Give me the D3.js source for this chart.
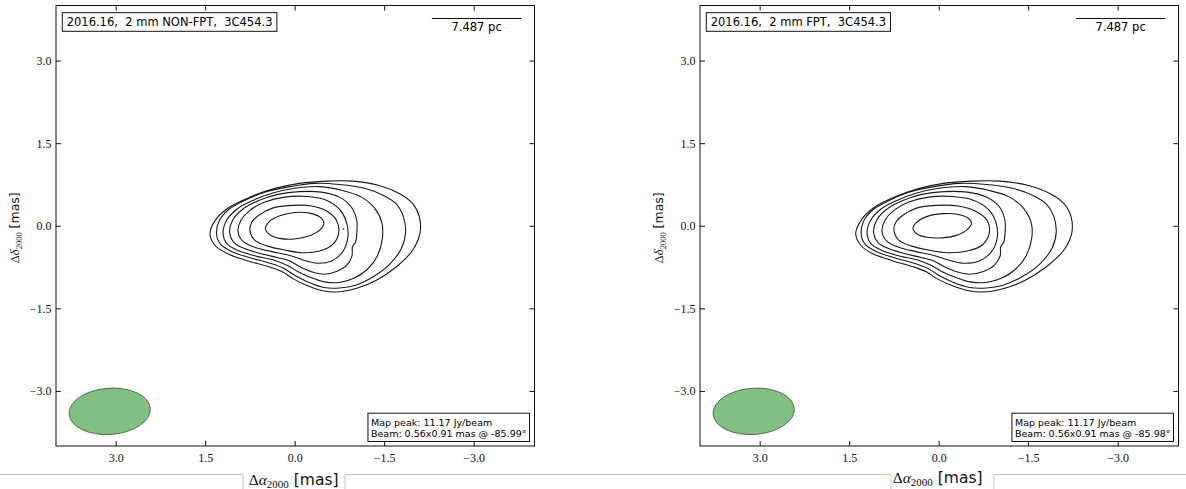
<!DOCTYPE html>
<html>
<head>
<meta charset="utf-8">
<script src="https://cdn.jsdelivr.net/npm/d3@7"></script>
<style>
  body { margin: 0; background: #fff; }
  svg { display: block; }
</style>
</head>
<body>
<svg id="chart" width="1186" height="489"></svg>
<script>
// ---- data -------------------------------------------------------------
const xTicks = [3.0, 1.5, 0.0, -1.5, -3.0];
const yTicks = [3.0, 1.5, 0.0, -1.5, -3.0];

const panelTitles = ["2016.16,  2 mm NON-FPT,  3C454.3", "2016.16,  2 mm FPT,  3C454.3"];
const mapPeaks   = [11.17, 11.17];          // Jy/beam
const beamMinor  = [0.56, 0.56];            // mas
const beamMajor  = [0.91, 0.91];            // mas
const beamPA     = [-85.99, -85.98];        // deg
const beamCentre = [[3.10, -3.37], [3.10, -3.37]];   // mas
const scaleBarMas   = [-2.3, -3.8];         // 1.5 mas bar
const scaleBarLabel = "7.487 pc";

// contour levels, outermost first, as (RA offset, Dec offset) in mas
const contoursNonFpt = [
  [[1.42,-0.14],[1.34,-0.35],[1.14,-0.50],[0.81,-0.63],[0.42,-0.75],[0.20,-0.84],[0.03,-0.96],[-0.20,-1.08],[-0.47,-1.18],[-0.75,-1.20],[-1.03,-1.14],[-1.37,-0.99],[-1.70,-0.75],[-1.98,-0.44],[-2.10,-0.14],[-2.09,0.16],[-1.98,0.40],[-1.76,0.58],[-1.42,0.73],[-0.98,0.81],[-0.53,0.81],[-0.08,0.77],[0.36,0.67],[0.75,0.52],[1.09,0.34],[1.31,0.13]],
  [[1.31,-0.14],[1.24,-0.34],[1.05,-0.47],[0.75,-0.58],[0.38,-0.69],[0.17,-0.78],[0.00,-0.90],[-0.22,-1.02],[-0.49,-1.12],[-0.75,-1.13],[-1.02,-1.08],[-1.31,-0.93],[-1.59,-0.70],[-1.79,-0.41],[-1.86,-0.12],[-1.82,0.17],[-1.71,0.39],[-1.49,0.55],[-1.17,0.68],[-0.75,0.75],[-0.33,0.77],[0.08,0.71],[0.50,0.61],[0.84,0.46],[1.10,0.30],[1.26,0.10]],
  [[1.20,-0.14],[1.14,-0.32],[0.97,-0.44],[0.69,-0.54],[0.33,-0.63],[0.12,-0.72],[-0.05,-0.83],[-0.25,-0.93],[-0.50,-1.02],[-0.75,-1.03],[-1.00,-0.95],[-1.22,-0.79],[-1.39,-0.54],[-1.47,-0.23],[-1.46,0.06],[-1.34,0.32],[-1.12,0.52],[-0.80,0.64],[-0.42,0.71],[0.00,0.68],[0.38,0.59],[0.70,0.46],[0.97,0.30],[1.14,0.10]],
  [[1.09,-0.12],[1.02,-0.30],[0.85,-0.41],[0.59,-0.50],[0.28,-0.58],[0.08,-0.64],[-0.08,-0.74],[-0.27,-0.83],[-0.49,-0.88],[-0.70,-0.83],[-0.87,-0.72],[-0.96,-0.55],[-0.97,-0.38],[-1.02,-0.30],[-1.04,-0.17],[-1.04,0.10],[-0.95,0.34],[-0.75,0.52],[-0.45,0.61],[-0.08,0.62],[0.28,0.57],[0.60,0.46],[0.87,0.30],[1.04,0.10]],
  [[0.95,-0.10],[0.87,-0.28],[0.67,-0.39],[0.38,-0.47],[0.08,-0.54],[-0.17,-0.63],[-0.38,-0.68],[-0.62,-0.64],[-0.80,-0.48],[-0.89,-0.23],[-0.87,0.06],[-0.75,0.30],[-0.54,0.46],[-0.22,0.53],[0.17,0.52],[0.50,0.43],[0.75,0.28],[0.90,0.10]],
  [[0.75,-0.08],[0.67,-0.26],[0.45,-0.37],[0.17,-0.44],[-0.13,-0.49],[-0.42,-0.46],[-0.64,-0.34],[-0.74,-0.12],[-0.70,0.10],[-0.55,0.26],[-0.28,0.36],[0.05,0.37],[0.37,0.32],[0.60,0.19],[0.72,0.06]],
  [[0.49,-0.05],[0.42,0.08],[0.25,0.18],[0.00,0.24],[-0.25,0.23],[-0.42,0.16],[-0.49,0.05],[-0.42,-0.08],[-0.25,-0.18],[0.00,-0.24],[0.25,-0.23],[0.42,-0.16]]
];
const specksNonFpt = [[-0.82, -0.06]];

const contoursFpt = [
  [[1.39,-0.14],[1.31,-0.35],[1.12,-0.50],[0.79,-0.63],[0.41,-0.75],[0.20,-0.84],[0.03,-0.96],[-0.21,-1.08],[-0.50,-1.18],[-0.80,-1.20],[-1.09,-1.14],[-1.45,-0.99],[-1.80,-0.75],[-2.10,-0.44],[-2.23,-0.14],[-2.22,0.16],[-2.10,0.40],[-1.87,0.58],[-1.51,0.73],[-1.04,0.81],[-0.56,0.81],[-0.08,0.77],[0.35,0.67],[0.74,0.52],[1.07,0.34],[1.28,0.13]],
  [[1.30,-0.14],[1.23,-0.34],[1.04,-0.47],[0.74,-0.58],[0.38,-0.69],[0.17,-0.78],[0.00,-0.90],[-0.23,-1.02],[-0.52,-1.12],[-0.80,-1.13],[-1.08,-1.08],[-1.39,-0.93],[-1.69,-0.70],[-1.90,-0.41],[-1.97,-0.12],[-1.93,0.17],[-1.81,0.39],[-1.58,0.55],[-1.24,0.68],[-0.80,0.75],[-0.35,0.77],[0.08,0.71],[0.50,0.61],[0.83,0.46],[1.09,0.30],[1.25,0.10]],
  [[1.20,-0.14],[1.14,-0.32],[0.97,-0.44],[0.69,-0.54],[0.33,-0.63],[0.12,-0.72],[-0.05,-0.83],[-0.27,-0.93],[-0.53,-1.02],[-0.80,-1.03],[-1.06,-0.95],[-1.29,-0.79],[-1.47,-0.54],[-1.56,-0.23],[-1.55,0.06],[-1.42,0.32],[-1.19,0.52],[-0.85,0.64],[-0.45,0.71],[0.00,0.68],[0.38,0.59],[0.70,0.46],[0.97,0.30],[1.14,0.10]],
  [[1.09,-0.12],[1.02,-0.30],[0.85,-0.41],[0.59,-0.50],[0.28,-0.58],[0.08,-0.64],[-0.09,-0.74],[-0.29,-0.83],[-0.52,-0.88],[-0.75,-0.83],[-0.93,-0.72],[-1.03,-0.55],[-1.04,-0.38],[-1.09,-0.30],[-1.11,-0.17],[-1.11,0.10],[-1.02,0.34],[-0.80,0.52],[-0.48,0.61],[-0.09,0.62],[0.28,0.57],[0.60,0.46],[0.87,0.30],[1.04,0.10]],
  [[0.95,-0.10],[0.87,-0.28],[0.67,-0.39],[0.38,-0.47],[0.08,-0.54],[-0.19,-0.63],[-0.42,-0.68],[-0.68,-0.64],[-0.88,-0.48],[-0.98,-0.23],[-0.96,0.06],[-0.83,0.30],[-0.59,0.46],[-0.24,0.53],[0.17,0.52],[0.50,0.43],[0.75,0.28],[0.90,0.10]],
  [[0.75,-0.08],[0.67,-0.26],[0.45,-0.37],[0.17,-0.44],[-0.15,-0.49],[-0.48,-0.46],[-0.74,-0.34],[-0.85,-0.12],[-0.81,0.10],[-0.63,0.26],[-0.32,0.36],[0.05,0.37],[0.37,0.32],[0.60,0.19],[0.72,0.06]],
  [[0.43,-0.05],[0.36,0.07],[0.19,0.17],[-0.06,0.22],[-0.31,0.21],[-0.48,0.15],[-0.55,0.05],[-0.48,-0.07],[-0.31,-0.17],[-0.06,-0.22],[0.19,-0.21],[0.36,-0.15]]
];
const specksFpt = [];

// ---- layout -----------------------------------------------------------
const svg = d3.select("#chart");
const frameTop = 5.5, frameBottom = 446;
const y = d3.scaleLinear().domain([-4, 4]).range([frameBottom, frameTop]);
const beamScale = 1.5;   // beam ellipse drawn at 1.5x FWHM

const panels = [
  { left: 56,  right: 534.5,  idx: 0, contours: contoursNonFpt, specks: specksNonFpt, xLabelBase: 484.5 },
  { left: 700, right: 1178.5, idx: 1, contours: contoursFpt,    specks: specksFpt,    xLabelBase: 482.5 }
];

const serif = "'Liberation Serif', 'DejaVu Serif', serif";
const sans  = "'DejaVu Sans', sans-serif";
const fmt = d3.format(".1f");

// light separator line running under the figure with notches round the labels
const sep = svg.append("g").attr("stroke", "#c4c4c4").attr("fill", "none").attr("stroke-width", 1);
const notches = [[243, 345], [891, 994]];
const sepY = 474.5;
sep.append("path").attr("d",
  `M0,${sepY}H${notches[0][0]}V489 M${notches[0][1]},489V${sepY}H${notches[1][0]}V489 M${notches[1][1]},489V${sepY}H1186`);

panels.forEach(p => {
  const x = d3.scaleLinear().domain([4, -4.02]).range([p.left, p.right]);
  const g = svg.append("g");

  // contours
  const line = d3.line()
    .x(d => x(d[0])).y(d => y(d[1]))
    .curve(d3.curveCatmullRomClosed.alpha(0.5));
  g.append("g").selectAll("path")
    .data(p.contours)
    .join("path")
      .attr("d", line)
      .attr("fill", "none")
      .attr("stroke", "#1a1a1a")
      .attr("stroke-width", 1.1);
  g.append("g").selectAll("circle")
    .data(p.specks)
    .join("circle")
      .attr("cx", d => x(d[0])).attr("cy", d => y(d[1]))
      .attr("r", 0.9).attr("fill", "#333");

  // restoring beam
  const bc = beamCentre[p.idx];
  const cx = x(bc[0]), cy = y(bc[1]);
  const rx = Math.abs(x(beamMajor[p.idx] * beamScale / 2) - x(0));
  const ry = Math.abs(y(beamMinor[p.idx] * beamScale / 2) - y(0));
  g.append("ellipse")
    .attr("cx", cx).attr("cy", cy).attr("rx", rx).attr("ry", ry)
    .attr("transform", `rotate(${-(90 + beamPA[p.idx])},${cx},${cy})`)
    .attr("fill", "#80c080")
    .attr("stroke", "#4a674a")
    .attr("stroke-width", 0.9);

  // axes: inward ticks on all four sides
  const styleAxis = sel => {
    sel.select(".domain").remove();
    sel.selectAll(".tick line").attr("stroke", "#111");
    sel.selectAll(".tick text").attr("font-family", serif).attr("font-size", 12).attr("fill", "#111");
  };
  g.append("g").attr("transform", `translate(0,${frameBottom})`)
    .call(d3.axisBottom(x).tickValues(xTicks).tickSize(-5).tickPadding(7).tickFormat(fmt)).call(styleAxis);
  g.append("g").attr("transform", `translate(0,${frameTop})`)
    .call(d3.axisTop(x).tickValues(xTicks).tickSize(-5).tickFormat("")).call(styleAxis);
  g.append("g").attr("transform", `translate(${p.left},0)`)
    .call(d3.axisLeft(y).tickValues(yTicks).tickSize(-5).tickPadding(4.5).tickFormat(fmt)).call(styleAxis);
  g.append("g").attr("transform", `translate(${p.right},0)`)
    .call(d3.axisRight(y).tickValues(yTicks).tickSize(-5).tickFormat("")).call(styleAxis);

  g.append("rect")
    .attr("x", p.left).attr("y", frameTop)
    .attr("width", p.right - p.left).attr("height", frameBottom - frameTop)
    .attr("fill", "none").attr("stroke", "#111").attr("stroke-width", 1);

  // title box
  const titleG = g.append("g");
  const title = titleG.append("text")
    .attr("x", p.left + 10.7).attr("y", 26.3)
    .attr("font-family", sans).attr("font-size", 11.5)
    .style("white-space", "pre")
    .text(panelTitles[p.idx]);
  const tb = title.node().getBBox();
  titleG.insert("rect", () => title.node())
    .attr("x", tb.x - 4.4).attr("y", 12.7)
    .attr("width", tb.width + 8.8).attr("height", 18.6)
    .attr("fill", "#fff").attr("stroke", "#111").attr("stroke-width", 1);

  // linear scale bar
  g.append("line")
    .attr("x1", x(scaleBarMas[0])).attr("x2", x(scaleBarMas[1]))
    .attr("y1", 18.5).attr("y2", 18.5)
    .attr("stroke", "#111").attr("stroke-width", 1);
  g.append("text")
    .attr("x", (x(scaleBarMas[0]) + x(scaleBarMas[1])) / 2).attr("y", 30.5)
    .attr("text-anchor", "middle")
    .attr("font-family", sans).attr("font-size", 11.5)
    .text(scaleBarLabel);

  // map info box
  const info = g.append("g");
  const lines = [
    `Map peak: ${mapPeaks[p.idx].toFixed(2)} Jy/beam`,
    `Beam: ${beamMinor[p.idx].toFixed(2)}x${beamMajor[p.idx].toFixed(2)} mas @ ${beamPA[p.idx].toFixed(2)}\u00B0`
  ];
  const infoText = info.selectAll("text").data(lines).join("text")
    .attr("x", 0).attr("y", (d, i) => 425.5 + i * 11.6)
    .attr("font-family", sans).attr("font-size", 9.5)
    .text(d => d);
  const ib = info.node().getBBox();
  const boxRight = p.right - 5, boxLeft = boxRight - ib.width - 6;
  info.attr("transform", `translate(${boxLeft + 3},0)`);
  info.insert("rect", () => infoText.node())
    .attr("x", -3).attr("y", 413.2)
    .attr("width", ib.width + 6).attr("height", 28.3)
    .attr("fill", "#fff").attr("stroke", "#111").attr("stroke-width", 1);

  // axis labels
  const xl = g.append("text")
    .attr("x", x(0) - 1).attr("y", p.xLabelBase)
    .attr("text-anchor", "middle").attr("font-size", 15.5).attr("fill", "#111");
  xl.append("tspan").attr("font-family", serif).text("\u0394");
  xl.append("tspan").attr("font-family", serif).attr("font-style", "italic").text("\u03B1");
  xl.append("tspan").attr("font-family", serif).attr("font-size", 11).attr("dy", 3.5).text("2000");
  xl.append("tspan").attr("font-family", sans).attr("dy", -3.5).style("white-space", "pre").text(" [mas]");

  const ylx = p.left - 37, yly = y(0) + 2;
  const yl = g.append("text")
    .attr("transform", `translate(${ylx},${yly}) rotate(-90)`)
    .attr("text-anchor", "middle").attr("font-size", 12.5).attr("fill", "#111");
  yl.append("tspan").attr("font-family", serif).text("\u0394");
  yl.append("tspan").attr("font-family", serif).attr("font-style", "italic").text("\u03B4");
  yl.append("tspan").attr("font-family", serif).attr("font-size", 8.5).attr("dy", 3).text("2000");
  yl.append("tspan").attr("font-family", sans).attr("dy", -3).style("white-space", "pre").text(" [mas]");
});
</script>
</body>
</html>
